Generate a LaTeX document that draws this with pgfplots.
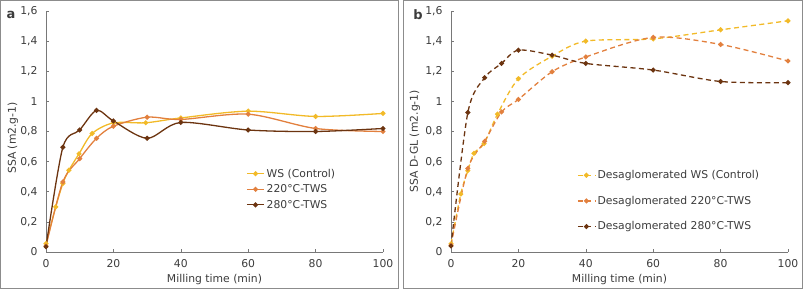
\documentclass[border=0pt]{standalone}
\usepackage{fontspec}
\setmainfont{DejaVu Sans}
\usepackage{pgfplots}
\pgfplotsset{compat=1.18}
\definecolor{cws}{RGB}{242,186,40}
\definecolor{c220}{RGB}{226,128,62}
\definecolor{c280}{RGB}{108,52,16}
\definecolor{frame}{RGB}{140,140,140}
\definecolor{axisgray}{RGB}{120,120,120}
\definecolor{txt}{RGB}{60,60,60}
\newcommand{\fs}{\fontsize{10.8pt}{13pt}\selectfont}
\pgfplotsset{
  myaxis/.style={
    scale only axis, width=337pt, height=241pt,
    xmin=0, xmax=100, ymin=0, ymax=1.6,
    axis lines*=left,
    axis line style={axisgray, line width=0.8pt},
    tick align=inside, major tick length=3pt,
    tick style={axisgray, line width=0.6pt},
    xtick={0,20,...,100}, ytick={0,0.2,...,1.6},
    /pgf/number format/assume math mode=true,
    yticklabel style={/pgf/number format/fixed, /pgf/number format/use comma, xshift=-5pt},
    xticklabel style={yshift=-4pt},
    tick label style={font=\fs, text=txt},
    label style={font=\fs, text=txt},
    xlabel={Milling time (min)},
    xlabel style={at={(axis description cs:0.5,0)}, anchor=center, yshift=-28pt},
    legend style={draw=none, fill=none, font=\fs, text=txt, anchor=north west, legend cell align=left},
    every axis plot/.append style={line width=1.3pt, smooth, tension=0.5, mark=*, mark size=1.8pt},
  }
}
\begin{document}
\begin{tikzpicture}[x=1pt,y=1pt]
\useasboundingbox (0,0) rectangle (803,289);
\draw[frame, line width=0.9pt] (0.5,0.5) rectangle (398,288.5);
\draw[frame, line width=0.9pt] (403,0.5) rectangle (802.5,288.5);
\node[anchor=center, font=\fontsize{13pt}{15pt}\selectfont\bfseries, text=txt] at (11,274) {a};
\node[anchor=center, font=\fontsize{13pt}{15pt}\selectfont\bfseries, text=txt] at (418,274) {b};
\begin{axis}[myaxis, at={(46pt,37pt)}, anchor=south west,
  ylabel={SSA (m2.g-1)},
  ylabel style={at={(axis description cs:-0.098,0.473)}, anchor=center},
  legend style={at={(axis cs:58.5,0.58)}, row sep=2pt}]
\addplot[color=cws, mark options={fill=cws}] coordinates {
(0,0.055) (2.9,0.30) (5,0.455) (6.8,0.543) (9.8,0.652) (13.7,0.787) (20,0.857) (29.6,0.858) (40,0.89) (60,0.935) (80,0.90) (100,0.92)};
\addlegendentry{WS (Control)}
\addplot[color=c220, mark options={fill=c220}] coordinates {
(0,0.04) (5,0.465) (10,0.62) (15,0.755) (20,0.835) (30,0.895) (40,0.88) (60,0.915) (80,0.82) (100,0.80)};
\addlegendentry{220°C-TWS}
\addplot[color=c280, mark options={fill=c280}] coordinates {
(0,0.035) (5,0.695) (10,0.81) (15,0.94) (20,0.87) (30,0.755) (40,0.86) (60,0.81) (80,0.80) (100,0.82)};
\addlegendentry{280°C-TWS}
\end{axis}
\begin{axis}[myaxis, at={(451pt,37pt)}, anchor=south west,
  ylabel={SSA D-GL (m2.g-1)},
  ylabel style={at={(axis description cs:-0.107,0.46)}, anchor=center},
  legend style={at={(axis cs:36.5,0.57)}, row sep=12pt},
  every axis plot/.append style={dash pattern=on 5pt off 3.5pt},
  ]
\addplot[color=cws, mark options={fill=cws, solid}] coordinates {
(0,0.055) (2.9,0.385) (5,0.54) (6.8,0.655) (9.8,0.72) (13.8,0.915) (20,1.15) (30,1.30) (40,1.40) (60,1.415) (80,1.475) (100,1.535)};
\addlegendentry{Desaglomerated WS (Control)}
\addplot[color=c220, mark options={fill=c220, solid}] coordinates {
(0,0.045) (5,0.555) (10,0.735) (15,0.93) (20,1.013) (30,1.197) (40,1.295) (60,1.425) (80,1.378) (100,1.268)};
\addlegendentry{Desaglomerated 220°C-TWS}
\addplot[color=c280, mark options={fill=c280, solid}] coordinates {
(0,0.04) (5,0.926) (10,1.157) (15,1.252) (20,1.34) (30,1.307) (40,1.252) (60,1.208) (80,1.132) (100,1.124)};
\addlegendentry{Desaglomerated 280°C-TWS}
\end{axis}
\end{tikzpicture}
\end{document}
